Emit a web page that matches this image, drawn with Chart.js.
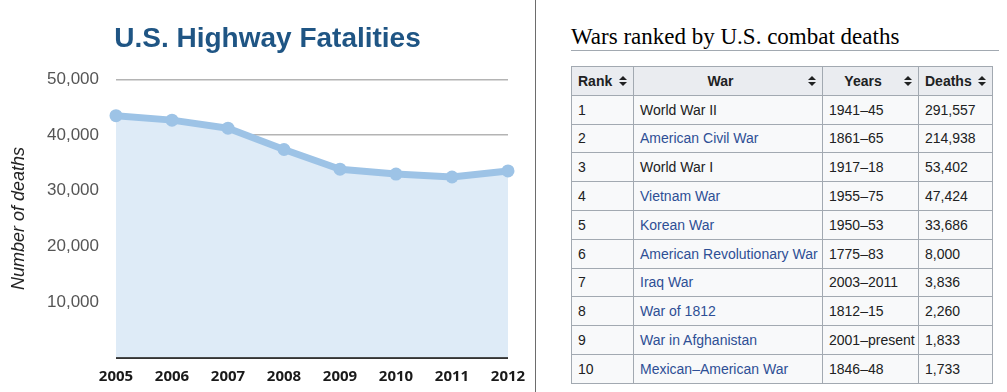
<!DOCTYPE html>
<html>
<head>
<meta charset="utf-8">
<script src="https://cdn.jsdelivr.net/npm/chart.js@4"></script>
<style>
  body { margin: 0; background: #fff; width: 1007px; height: 392px; overflow: hidden; position: relative; }
  #chartBox { position: absolute; left: 0; top: 0; }
  .divider { position: absolute; left: 535px; top: 0; width: 1px; height: 392px; background: #6d6d6d; }
  .wikiTitle {
    position: absolute; left: 571px; top: 23px; width: 428px;
    font-family: "Liberation Serif", Georgia, serif; font-size: 23px; color: #000;
    border-bottom: 1px solid #a2a9b1; line-height: 27px;
  }
  table.wars {
    position: absolute; left: 571px; top: 66px; width: 421px;
    border-collapse: collapse; table-layout: fixed;
    font-family: "Liberation Sans", Arial, sans-serif; font-size: 14px; color: #202122;
    background: #f8f9fa;
  }
  table.wars th, table.wars td {
    box-sizing: border-box; border: 1px solid #a2a9b1; height: 28.8px;
    padding: 0 0 0 6px; white-space: nowrap; overflow: hidden;
  }
  table.wars th { background: #eaecf0; font-weight: bold; text-align: center; position: relative; padding-right: 21px; }
  table.wars td { text-align: left; }
  table.wars a { color: #2e4f95; text-decoration: none; }
  .sort { position: absolute; right: 6px; top: 50%; margin-top: -5px; width: 8px; height: 10px; }
  .sort::before, .sort::after { content: ""; position: absolute; left: 0; border-left: 4px solid transparent; border-right: 4px solid transparent; }
  .sort::before { top: 0; border-bottom: 4px solid #202122; }
  .sort::after { bottom: 0; border-top: 4px solid #202122; }
</style>
</head>
<body>
<canvas id="chartBox" width="535" height="392"></canvas>
<div class="divider"></div>
<div class="wikiTitle">Wars ranked by U.S. combat deaths</div>
<table class="wars" id="warsTable"></table>

<script>
// chart data
const years = ["2005", "2006", "2007", "2008", "2009", "2010", "2011", "2012"]
const fatalities = [43510, 42708, 41259, 37423, 33883, 32999, 32479, 33561]
const yTickValues = [10000, 20000, 30000, 40000, 50000]

// table data
const headers = ["Rank", "War", "Years", "Deaths"]
const colWidths = [62, 189, 96, 74]
const ranks = ["1", "2", "3", "4", "5", "6", "7", "8", "9", "10"]
const wars = ["World War II", "American Civil War", "World War I", "Vietnam War", "Korean War",
    "American Revolutionary War", "Iraq War", "War of 1812", "War in Afghanistan", "Mexican–American War"]
const warIsLink = [false, true, false, true, true, true, true, true, true, true]
const warYears = ["1941–45", "1861–65", "1917–18", "1955–75", "1950–53", "1775–83", "2003–2011", "1812–15", "2001–present", "1846–48"]
const deaths = ["291,557", "214,938", "53,402", "47,424", "33,686", "8,000", "3,836", "2,260", "1,833", "1,733"]

const table = document.querySelector("#warsTable")
const colgroup = document.createElement("colgroup")
for (let i = 0; i < colWidths.length; i++) {
    const col = document.createElement("col")
    col.style.width = colWidths[i] + "px"
    colgroup.appendChild(col)
}
table.appendChild(colgroup)

const headRow = document.createElement("tr")
for (let i = 0; i < headers.length; i++) {
    const th = document.createElement("th")
    th.textContent = headers[i]
    const icon = document.createElement("span")
    icon.classList.add("sort")
    th.appendChild(icon)
    headRow.appendChild(th)
}
table.appendChild(headRow)

for (let i = 0; i < ranks.length; i++) {
    const tr = document.createElement("tr")
    const cells = [ranks[i], wars[i], warYears[i], deaths[i]]
    for (let j = 0; j < cells.length; j++) {
        const td = document.createElement("td")
        if (j === 1 && warIsLink[i]) {
            const a = document.createElement("a")
            a.textContent = cells[j]
            td.appendChild(a)
        } else {
            td.textContent = cells[j]
        }
        tr.appendChild(td)
    }
    table.appendChild(tr)
}

// highway chart
const config = {
    type: "line",
    data: {
        labels: years,
        datasets: [{
            data: fatalities,
            fill: "origin",
            backgroundColor: "#deebf7",
            borderColor: "#9dc3e6",
            borderWidth: 7,
            borderJoinStyle: "round",
            borderCapStyle: "round",
            pointRadius: 6.5,
            pointBackgroundColor: "#9dc3e6",
            pointBorderWidth: 0,
            tension: 0,
            clip: false,
        }],
    },
    options: {
        responsive: false,
        animation: false,
        layout: { padding: { left: 27, right: 27, top: 0, bottom: 0 } },
        plugins: {
            legend: { display: false },
            tooltip: { enabled: false },
            title: {
                display: true,
                text: "U.S. Highway Fatalities",
                color: "#1f5584",
                font: { family: "'Liberation Sans', Arial, sans-serif", size: 28, weight: "bold" },
                padding: { top: 22, bottom: 24 },
            },
        },
        scales: {
            x: {
                offset: false,
                grid: { display: false },
                border: { display: false },
                ticks: {
                    color: "#1a1a1a",
                    padding: 2,
                    maxRotation: 0,
                    font: { family: "'Open Sans', sans-serif", size: 15, weight: "bold" },
                },
                afterFit: (scale) => { scale.height = 34.5 },
            },
            y: {
                min: 0,
                max: 50000,
                border: { display: false },
                grid: {
                    drawTicks: false,
                    color: (ctx) => ctx.tick && ctx.tick.value === 0 ? "#333333" : "#b4b4b4",
                    lineWidth: (ctx) => ctx.tick && ctx.tick.value === 0 ? 2 : 1.5,
                },
                afterBuildTicks: (scale) => {
                    scale.ticks = [0].concat(yTickValues).map(v => ({ value: v }))
                },
                ticks: {
                    color: "#555555",
                    padding: 17,
                    font: { family: "'Liberation Sans', Arial, sans-serif", size: 17 },
                    callback: (value) => yTickValues.includes(value) ? value.toLocaleString("en-US") : "",
                },
                title: {
                    display: true,
                    text: "Number of deaths",
                    color: "#222222",
                    padding: { top: -19, bottom: 0 },
                    font: { family: "'Liberation Sans', Arial, sans-serif", size: 18, style: "italic" },
                },
                afterFit: (scale) => { scale.width = 89 },
            },
        },
    },
}

// eslint-disable-next-line no-undef
const highwayChart = new Chart(document.querySelector("#chartBox"), config)
</script>
</body>
</html>
